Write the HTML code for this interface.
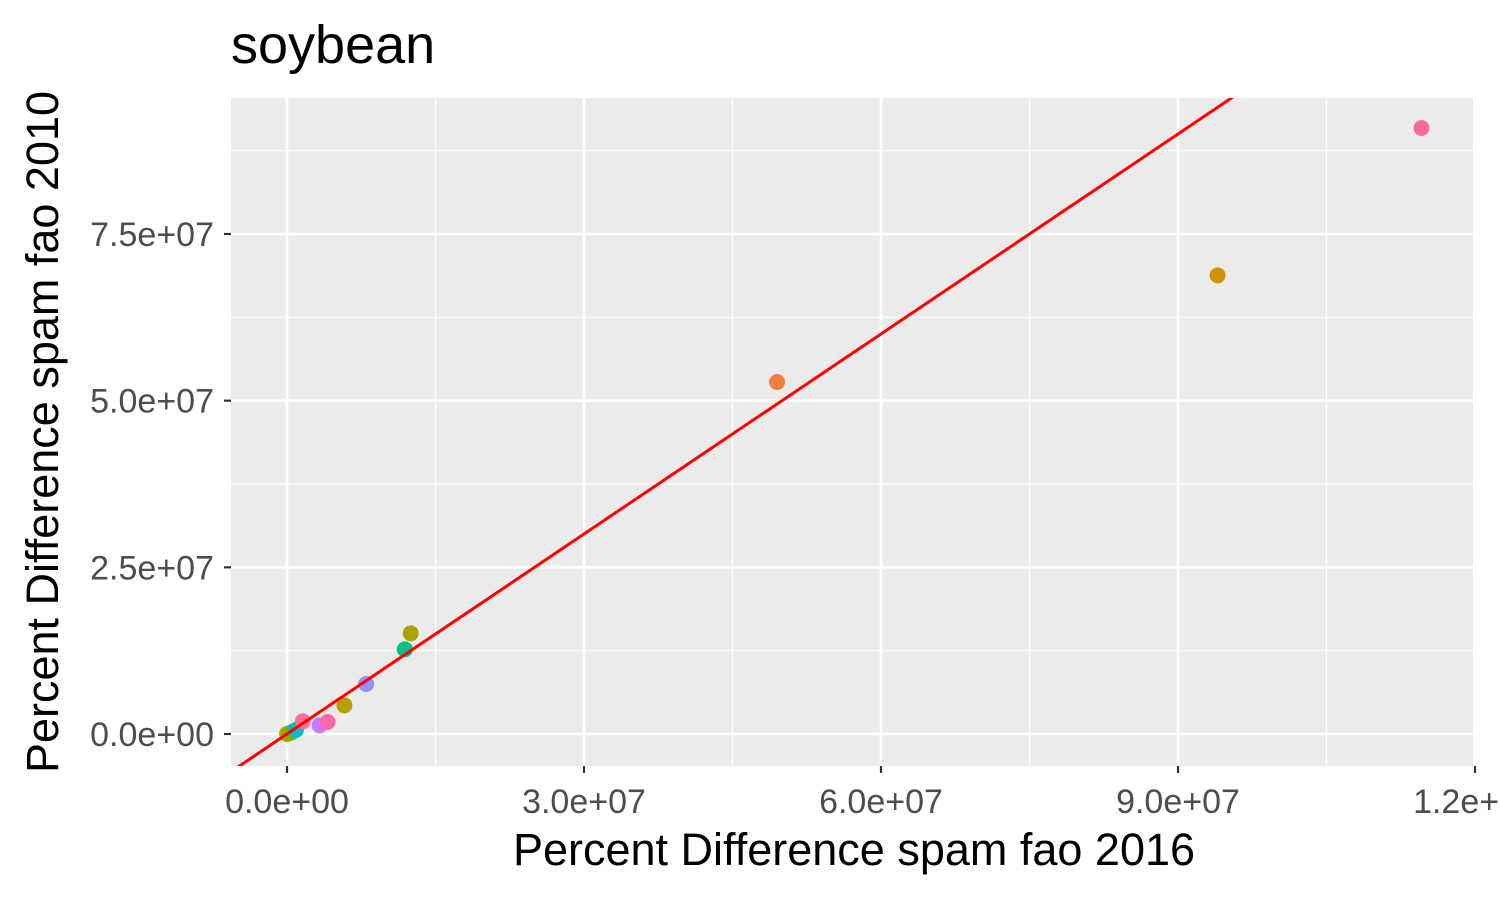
<!DOCTYPE html>
<html><head><meta charset="utf-8"><style>body{margin:0;background:#fff}svg{display:block;font-family:"Liberation Sans",Arial,sans-serif}</style></head>
<body>
<svg id="chart" width="1500" height="900">
<text x="231" y="63" font-size="54" fill="#000">soybean</text>
<rect x="231" y="98" width="1242" height="668" fill="#ebebeb"/>
<g id="grid"></g>
<g id="pts"></g>
<g id="line"></g>
<g id="axes"></g>
<text x="854" y="865" font-size="45" text-anchor="middle">Percent Difference spam fao 2016</text>
<text transform="translate(58,432) rotate(-90)" font-size="45" text-anchor="middle">Percent Difference spam fao 2010</text>
</svg>
<script>
const xVals=[11.46e7,9.40e7,4.95e7,1.25e7,1.19e7,0.80e7,0.58e7,0.41e7,0.33e7,0.16e7,0.09e7,0.05e7,0.02e7,0];
const yVals=[9.09e7,6.88e7,5.28e7,1.51e7,1.27e7,0.75e7,0.43e7,0.18e7,0.13e7,0.19e7,0.06e7,0.03e7,0.01e7,0];
const colors=["#ff6c91","#cd9600","#f07e45","#aba300","#00c08b","#8f91ff","#b79f00","#ff65ac","#c77cff","#fd6f9a","#00bfc4","#7cae00","#a3a500","#b5a300"];
const xTicks=[0,3e7,6e7,9e7,1.2e8];
const xTickLabels=["0.0e+00","3.0e+07","6.0e+07","9.0e+07","1.2e+08"];
const yTicks=[0,2.5e7,5e7,7.5e7];
const yTickLabels=["0.0e+00","2.5e+07","5.0e+07","7.5e+07"];
const NS="http://www.w3.org/2000/svg";
const X0=231,X1=1473,Y0=98,Y1=766;
const sx=v=>287+v*(1475-287)/1.2e8;
const sy=v=>734-v*(734-234)/7.5e7;
function mk(tag,attrs,parent){const e=document.createElementNS(NS,tag);for(const k in attrs)e.setAttribute(k,attrs[k]);document.getElementById(parent).appendChild(e);return e;}
for(let i=0;i<xTicks.length;i++){const m=xTicks[i]+1.5e7;const p=sx(m);if(p<X1){const g=mk('line',{x1:p,x2:p,y1:Y0,y2:Y1,stroke:'#fff','stroke-width':1.2},'grid');

}}
for(let i=0;i<yTicks.length;i++){const m=yTicks[i]+1.25e7;const p=sy(m);if(p>Y0){const g=mk('line',{x1:X0,x2:X1,y1:p,y2:p,stroke:'#fff','stroke-width':1.2},'grid');

}}
xTicks.forEach((t,i)=>{const p=sx(t);
if(p<=X1){const g=mk('line',{x1:p,x2:p,y1:Y0,y2:Y1,stroke:'#fff','stroke-width':2.6},'grid');

}
const tk=mk('line',{x1:p,x2:p,y1:Y1,y2:Y1+7,stroke:'#333','stroke-width':2.2},'axes');


const tx=mk('text',{x:p,y:813,'font-size':34,fill:'#4d4d4d','text-anchor':'middle'},'axes');tx.textContent=xTickLabels[i];

});
yTicks.forEach((t,i)=>{const p=sy(t);
const g=mk('line',{x1:X0,x2:X1,y1:p,y2:p,stroke:'#fff','stroke-width':2.6},'grid');


const tk=mk('line',{x1:X0-7,x2:X0,y1:p,y2:p,stroke:'#333','stroke-width':2.2},'axes');


const tx=mk('text',{x:X0-17,y:p+12,'font-size':34,fill:'#4d4d4d','text-anchor':'end'},'axes');tx.textContent=yTickLabels[i];

});
xVals.map((v,i)=>i).reverse().forEach(i=>{const c=mk('circle',{cx:sx(xVals[i]),cy:sy(yVals[i]),r:8,fill:colors[i]},'pts');

});
const cp=mk('clipPath',{id:'clip'},'line');mk('rect',{x:X0,y:Y0,width:X1-X0,height:Y1-Y0},'clip');
const l=mk('line',{x1:sx(-1e7),y1:sy(-1e7),x2:sx(1.3e8),y2:sy(1.3e8),stroke:'#ff0000','stroke-width':3,'clip-path':'url(#clip)'},'line');


</script>
</body></html>
